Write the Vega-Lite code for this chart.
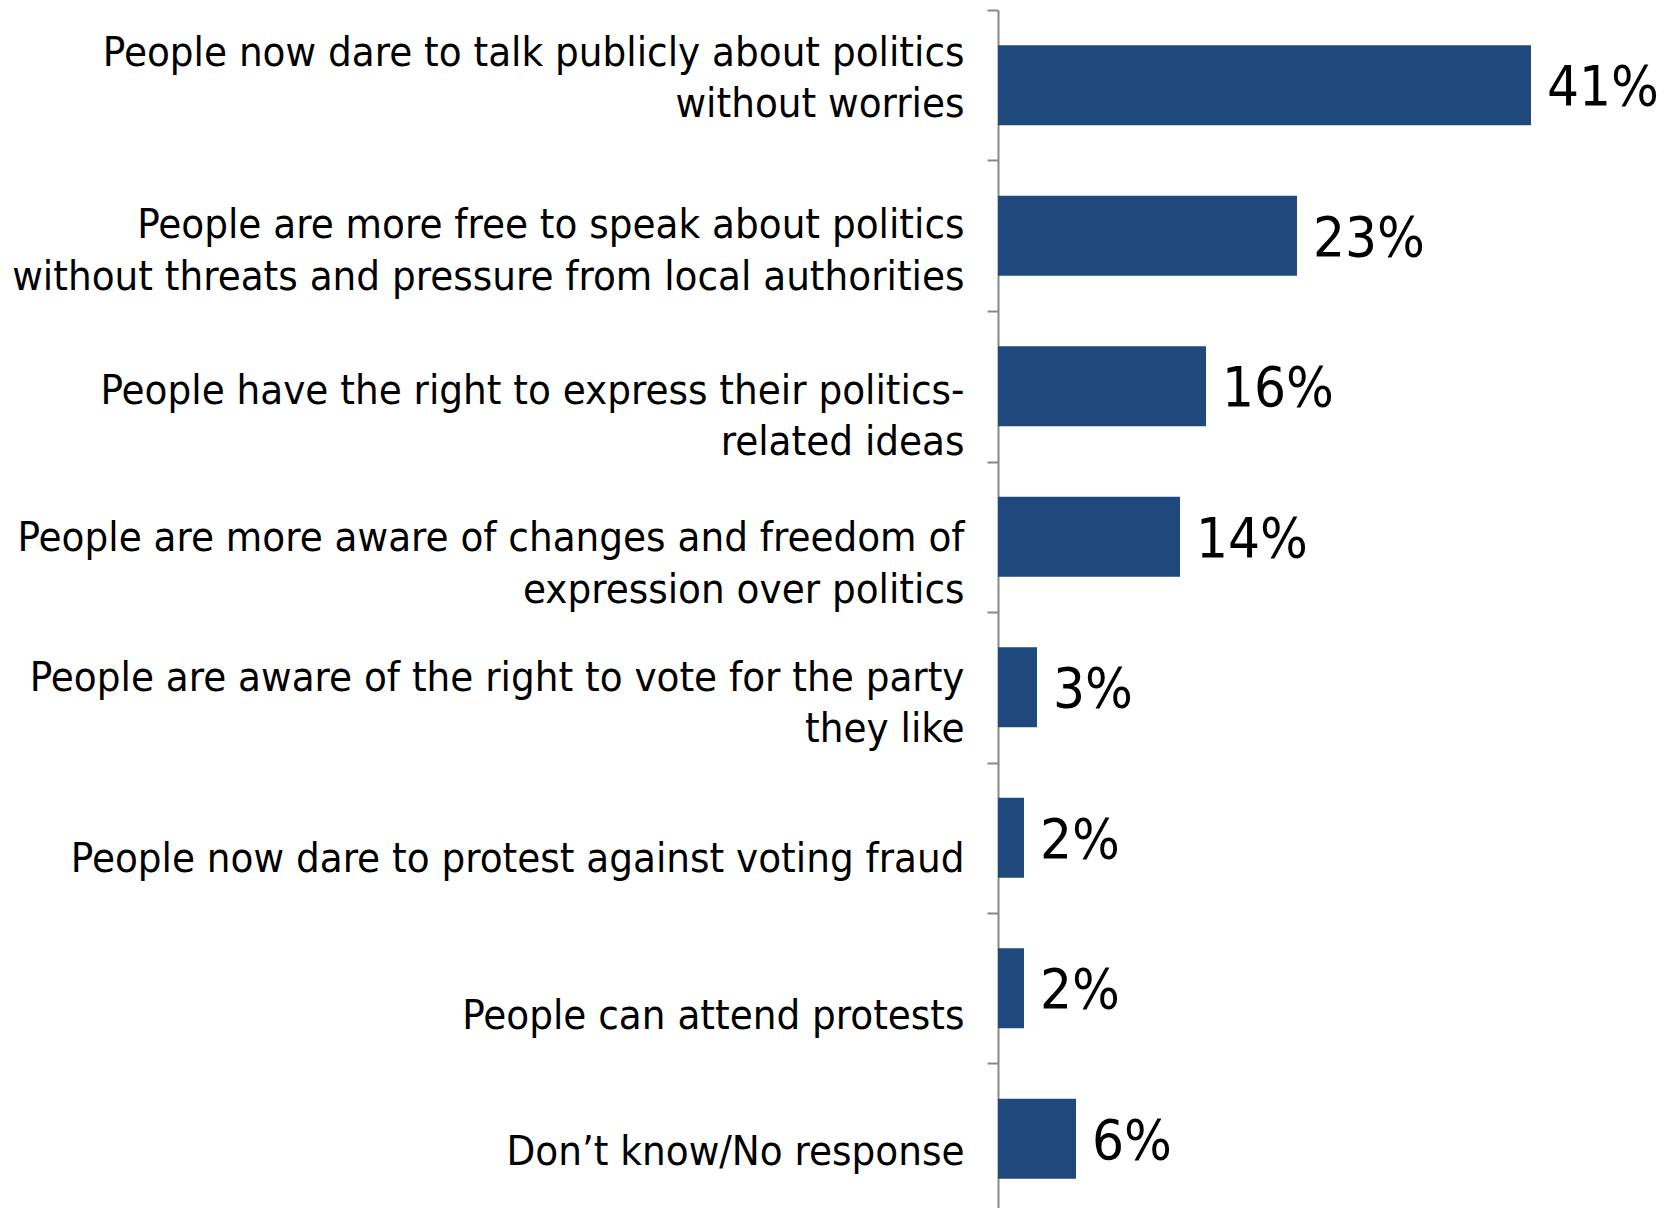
{
  "$schema": "https://vega.github.io/schema/vega-lite/v6.json",
  "width": 673,
  "height": 1204,
  "autosize": {"type": "none"},
  "padding": {"left": 998, "top": 10, "right": 0, "bottom": 0},
  "background": "white",
  "config": {"view": {"stroke": null}, "font": "DejaVu Sans Condensed"},
  "data": {
    "values": [
      {"response": "People now dare to talk publicly about politics|without worries", "pct": 0.41},
      {"response": "People are more free to speak about politics|without threats and pressure from local authorities", "pct": 0.23},
      {"response": "People have the right to express their politics-|related ideas", "pct": 0.16},
      {"response": "People are more aware of changes and freedom of|expression over politics", "pct": 0.14},
      {"response": "People are aware of the right to vote for the party|they like", "pct": 0.03},
      {"response": "People now dare to protest against voting fraud", "pct": 0.02},
      {"response": "People can attend protests", "pct": 0.02},
      {"response": "Don’t know/No response", "pct": 0.06}
    ]
  },
  "encoding": {
    "y": {
      "field": "response",
      "type": "nominal",
      "sort": null,
      "scale": {"paddingInner": 0.47, "paddingOuter": 0.235},
      "axis": {
        "title": null,
        "labelExpr": "split(datum.label, '|')",
        "labelFont": "DejaVu Sans Condensed",
        "labelFontSize": 41.6,
        "labelLineHeight": 51.5,
        "labelPadding": 23,
        "labelBaseline": "middle",
        "labelOffset": {
          "condition": [
            {"test": "indexof(datum.value, 'without worries') >= 0", "value": 43.25},
            {"test": "indexof(datum.value, 'local authorities') >= 0", "value": 65.25},
            {"test": "indexof(datum.value, 'related ideas') >= 0", "value": 80.25},
            {"test": "indexof(datum.value, 'expression over') >= 0", "value": 77.25},
            {"test": "indexof(datum.value, 'they like') >= 0", "value": 66.25},
            {"test": "indexof(datum.value, 'voting fraud') >= 0", "value": 97.25},
            {"test": "indexof(datum.value, 'attend protests') >= 0", "value": 103.25},
            {"test": "indexof(datum.value, 'No response') >= 0", "value": 89.25}
          ],
          "value": 75.25
        },
        "labelColor": "black",
        "labelLimit": 0,
        "domainColor": "#888888",
        "domainWidth": 2,
        "tickColor": "#888888",
        "tickWidth": 2,
        "tickSize": 11,
        "tickOffset": -75.25
      }
    },
    "x": {
      "field": "pct",
      "type": "quantitative",
      "scale": {"domain": [0, 0.5177], "nice": false},
      "axis": null
    }
  },
  "layer": [
    {"mark": {"type": "bar", "color": "#1f497d"}},
    {
      "mark": {"type": "text", "align": "left", "baseline": "middle", "dx": 16, "dy": 3, "fontSize": 56, "font": "DejaVu Sans Condensed", "color": "black"},
      "encoding": {"text": {"field": "pct", "type": "quantitative", "format": ".0%"}}
    }
  ]
}
